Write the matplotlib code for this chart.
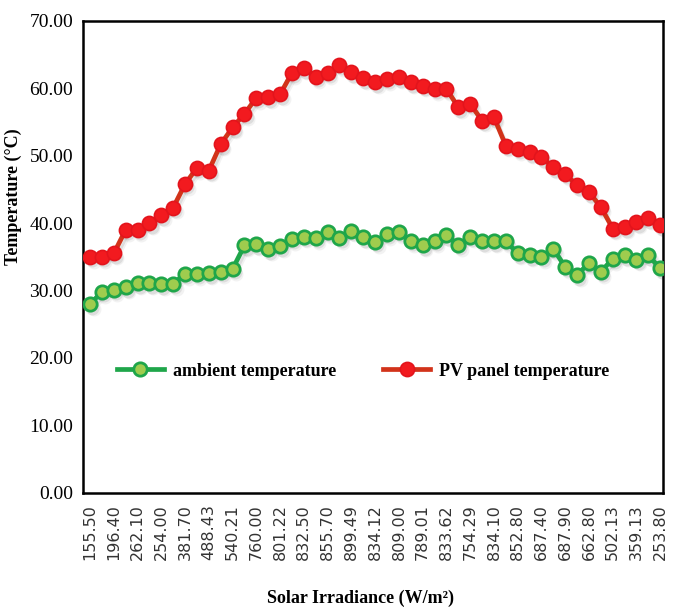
import matplotlib
matplotlib.use("Agg")
import matplotlib.pyplot as plt
import matplotlib.transforms as mtransforms
import numpy as np

tick_labels = ["155.50", "196.40", "262.10", "254.00", "381.70", "488.43", "540.21",
               "760.00", "801.22", "832.50", "855.70", "899.49", "834.12", "809.00",
               "789.01", "833.62", "754.29", "834.10", "852.80", "687.40", "687.90",
               "662.80", "502.13", "359.13", "253.80"]

ambient = [28.0, 29.8, 30.1, 30.5, 31.1, 31.1, 30.9, 31.0, 32.5, 32.5, 32.6, 32.8,
           33.2, 36.7, 36.9, 36.1, 36.6, 37.7, 38.0, 37.8, 38.7, 37.8, 38.9, 37.9,
           37.2, 38.4, 38.7, 37.4, 36.7, 37.4, 38.2, 36.8, 38.0, 37.3, 37.3, 37.4,
           35.5, 35.2, 35.0, 36.2, 33.5, 32.3, 34.1, 32.8, 34.7, 35.2, 34.6, 35.2, 33.3]

pv_panel = [35.0, 35.0, 35.5, 39.0, 39.0, 40.0, 41.2, 42.3, 45.8, 48.2, 47.8, 51.7,
            54.2, 56.2, 58.6, 58.7, 59.1, 62.3, 63.0, 61.7, 62.3, 63.5, 62.4, 61.5,
            60.9, 61.4, 61.6, 60.9, 60.4, 59.9, 59.9, 57.2, 57.7, 55.2, 55.7, 51.5,
            51.0, 50.5, 49.8, 48.3, 47.3, 45.6, 44.6, 42.4, 39.2, 39.4, 40.1, 40.7, 39.7]

series_names = ["ambient temperature", "PV panel temperature"]

x = np.arange(len(ambient))

fig = plt.figure(figsize=(6.74, 6.13), dpi=100)
ax = fig.add_axes([0.123, 0.196, 0.861, 0.770])

serif = "Liberation Serif"

# soft shadows
for off, a in [((1.5, -2.5), 0.18), ((2.5, -3.5), 0.10)]:
    shadow_tr = ax.transData + mtransforms.ScaledTranslation(off[0] / 72, off[1] / 72, fig.dpi_scale_trans)
    for data in (ambient, pv_panel):
        ax.plot(x, data, color="gray", alpha=a, lw=3, marker="o", ms=10,
                mfc="gray", mec="none", transform=shadow_tr, zorder=1)

ax.plot(x, ambient, color="#1fa64a", lw=3.4, marker="o", ms=9.6,
        mfc="#9fcc4e", mec="#1fa64a", mew=2.0, label=series_names[0], zorder=3)
ax.plot(x, pv_panel, color="#d2331a", lw=3.4, marker="o", ms=10.2,
        mfc="#f21a1f", mec="#e3141c", mew=1.2, label=series_names[1], zorder=3)

ax.set_ylim(0, 70)
ax.set_xlim(-0.6, 48.25)
ax.set_yticks(np.arange(0, 71, 10))
ax.set_yticklabels([f"{v:.2f}" for v in np.arange(0, 71, 10)], fontfamily=serif, fontsize=14)
ax.set_xticks(x[::2])
ax.set_xticklabels(tick_labels, rotation=90, fontfamily="DejaVu Sans", fontsize=11.5, color="#333333")
ax.tick_params(axis="both", length=0, pad=7)
ax.tick_params(axis="x", pad=8)

for s in ax.spines.values():
    s.set_linewidth(1.8)
    s.set_color("black")

ax.set_ylabel("Temperature (°C)", fontfamily=serif, fontweight="bold", fontsize=13)
ax.yaxis.set_label_coords(-0.105, 0.627)
ax.set_xlabel("Solar Irradiance (W/m²)", fontfamily=serif, fontweight="bold", fontsize=13)
ax.xaxis.set_label_coords(0.478, -0.205)

leg = ax.legend(loc="center", bbox_to_anchor=(0.483, 0.258), ncol=2, frameon=False,
                prop={"family": serif, "weight": "bold", "size": 13},
                handlelength=2.6, handletextpad=0.5, columnspacing=2.6)

fig.savefig("out.png", dpi=100)
